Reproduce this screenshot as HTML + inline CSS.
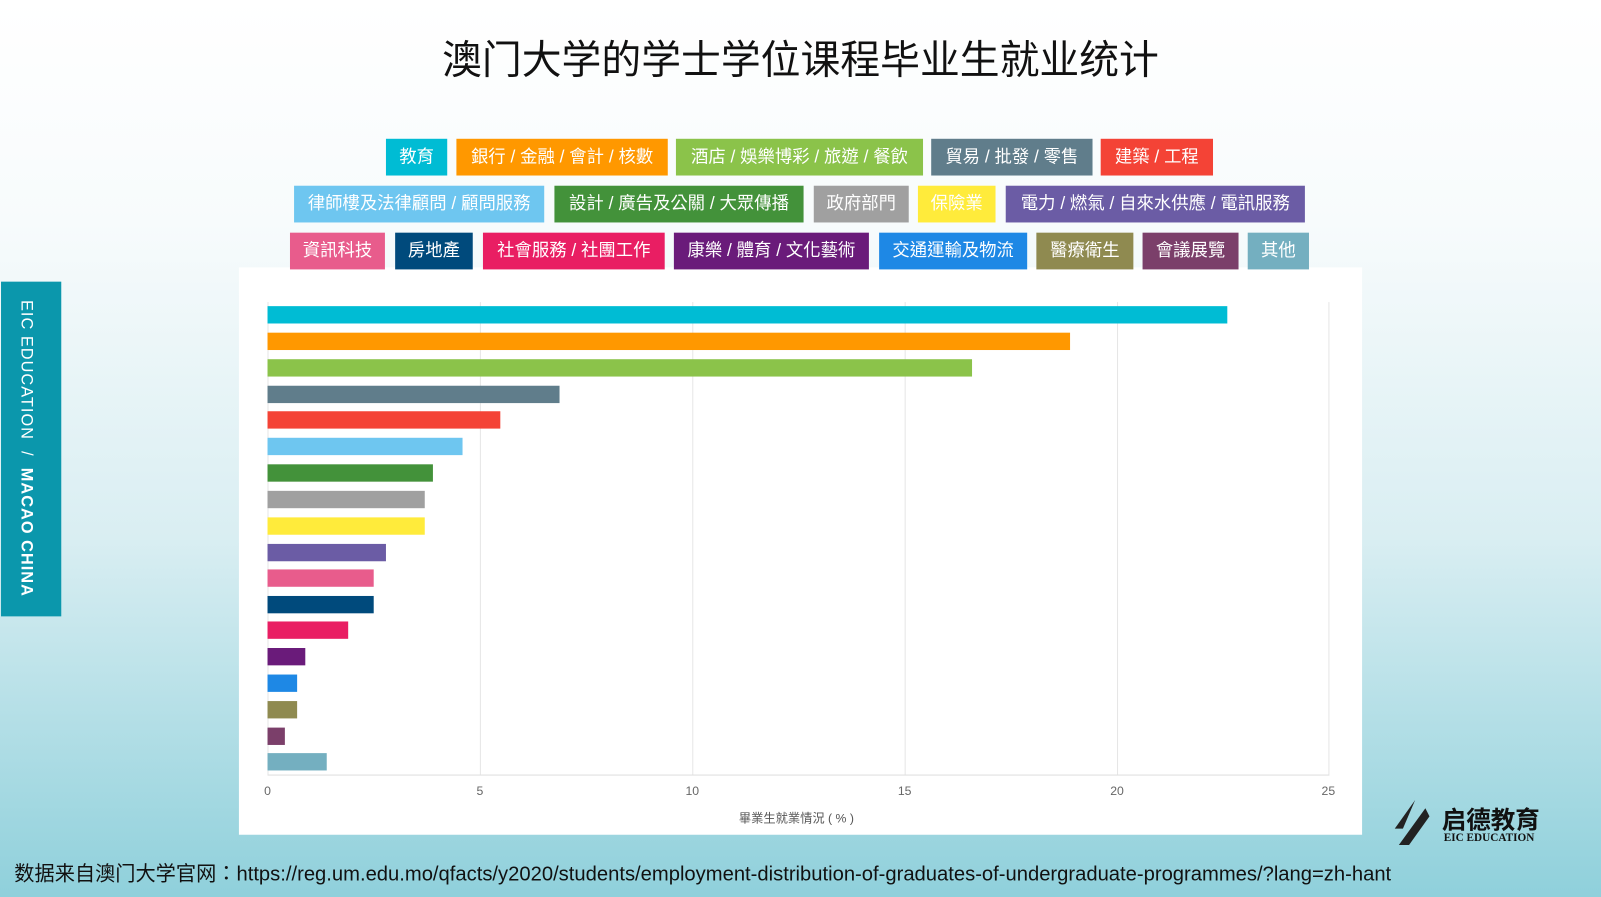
<!DOCTYPE html>
<html><head><meta charset="utf-8"><style>
html,body{margin:0;padding:0;width:1601px;height:897px;overflow:hidden}
#w{position:absolute;left:0;top:0;width:1568px;height:879px;transform:scale(1.02105,1.02048);transform-origin:0 0;
background:linear-gradient(180deg,#ffffff 0%,#f7fbfc 25%,#d9eef2 60%,#8fd0db 100%);font-family:"Liberation Sans","Noto Sans CJK TC",sans-serif}
.t{position:absolute;left:0;width:1568px;top:28px;text-align:center;font-size:39px;color:#111;font-family:"Liberation Sans","Noto Sans CJK SC",sans-serif}
.l{position:absolute;height:36px;line-height:36px;color:#fff;font-size:17px;text-align:center;white-space:nowrap}
.side{position:absolute;left:1px;top:276px;width:59px;height:328px;background:#0b97ac}
.side span{position:absolute;left:15px;top:18px;writing-mode:vertical-rl;color:#fff;font-size:16px;letter-spacing:1px}
.panel{position:absolute;left:234px;top:262px;width:1100px;height:556px;background:#fff}
.b{position:absolute;left:262px;height:17px}
.g{position:absolute;top:296px;height:463px;width:1px;background:#e6e6e6}
.tk{position:absolute;top:768px;font-size:12px;color:#666;width:30px;margin-left:-15px;text-align:center}
.foot{position:absolute;left:14px;top:840px;font-size:19.8px;color:#111;white-space:nowrap}
</style></head><body><div id="w">
<div class="t">澳门大学的学士学位课程毕业生就业统计</div>
<div class="side"><span>EIC EDUCATION &nbsp;/ &nbsp;<b>MACAO CHINA</b></span></div>
<div class="panel"></div>

<div class="l" style="top:136px;left:378px;width:60px;background:#00bcd4">教育</div>
<div class="l" style="top:136px;left:447px;width:207px;background:#ff9800">銀行 / 金融 / 會計 / 核數</div>
<div class="l" style="top:136px;left:662px;width:242px;background:#8bc34a">酒店 / 娛樂博彩 / 旅遊 / 餐飲</div>
<div class="l" style="top:136px;left:912px;width:158px;background:#607d8b">貿易 / 批發 / 零售</div>
<div class="l" style="top:136px;left:1078px;width:110px;background:#f44336">建築 / 工程</div>

<div class="l" style="top:182px;left:288px;width:245px;background:#6ec6f0">律師樓及法律顧問 / 顧問服務</div>
<div class="l" style="top:182px;left:543px;width:244px;background:#43923a">設計 / 廣告及公關 / 大眾傳播</div>
<div class="l" style="top:182px;left:797px;width:93px;background:#a0a0a0">政府部門</div>
<div class="l" style="top:182px;left:899px;width:76px;background:#ffeb3b">保險業</div>
<div class="l" style="top:182px;left:985px;width:293px;background:#6b5ca5">電力 / 燃氣 / 自來水供應 / 電訊服務</div>

<div class="l" style="top:228px;left:284px;width:93px;background:#e85c8c">資訊科技</div>
<div class="l" style="top:228px;left:387px;width:76px;background:#004a7c">房地產</div>
<div class="l" style="top:228px;left:473px;width:178px;background:#e91e63">社會服務 / 社團工作</div>
<div class="l" style="top:228px;left:660px;width:191px;background:#6a1b7a">康樂 / 體育 / 文化藝術</div>
<div class="l" style="top:228px;left:861px;width:145px;background:#1e88e5">交通運輸及物流</div>
<div class="l" style="top:228px;left:1015px;width:95px;background:#8f8a50">醫療衛生</div>
<div class="l" style="top:228px;left:1119px;width:94px;background:#7b3f6a">會議展覽</div>
<div class="l" style="top:228px;left:1222px;width:60px;background:#74afc0">其他</div>

<div class="g" style="left:262px"></div><div class="g" style="left:470px"></div><div class="g" style="left:678px"></div>
<div class="g" style="left:886px"></div><div class="g" style="left:1094px"></div><div class="g" style="left:1301px"></div>
<div style="position:absolute;left:262px;top:759px;width:1040px;height:1px;background:#ddd"></div>

<div class="b" style="top:300px;width:940px;background:#00bcd4"></div>
<div class="b" style="top:326px;width:786px;background:#ff9800"></div>
<div class="b" style="top:352px;width:690px;background:#8bc34a"></div>
<div class="b" style="top:378px;width:286px;background:#607d8b"></div>
<div class="b" style="top:403px;width:228px;background:#f44336"></div>
<div class="b" style="top:429px;width:191px;background:#6ec6f0"></div>
<div class="b" style="top:455px;width:162px;background:#43923a"></div>
<div class="b" style="top:481px;width:154px;background:#a0a0a0"></div>
<div class="b" style="top:507px;width:154px;background:#ffeb3b"></div>
<div class="b" style="top:533px;width:116px;background:#6b5ca5"></div>
<div class="b" style="top:558px;width:104px;background:#e85c8c"></div>
<div class="b" style="top:584px;width:104px;background:#004a7c"></div>
<div class="b" style="top:609px;width:79px;background:#e91e63"></div>
<div class="b" style="top:635px;width:37px;background:#6a1b7a"></div>
<div class="b" style="top:661px;width:29px;background:#1e88e5"></div>
<div class="b" style="top:687px;width:29px;background:#8f8a50"></div>
<div class="b" style="top:713px;width:17px;background:#7b3f6a"></div>
<div class="b" style="top:738px;width:58px;background:#74afc0"></div>

<div class="tk" style="left:262px">0</div><div class="tk" style="left:470px">5</div><div class="tk" style="left:678px">10</div>
<div class="tk" style="left:886px">15</div><div class="tk" style="left:1094px">20</div><div class="tk" style="left:1301px">25</div>
<div style="position:absolute;left:700px;width:160px;text-align:center;top:793px;font-size:12px;color:#555">畢業生就業情況 ( % )</div>

<div style="position:absolute;left:1356px;top:782px;width:48px;height:48px">
<svg width="48" height="48"><path d="M30 2 L10 30 L18 30 Z" fill="#222"/><path d="M40 10 L14 46 L24 46 L44 18 Z" fill="#222"/></svg></div>
<div style="position:absolute;left:1412px;top:784px;font-size:24px;font-weight:bold;color:#111">启德教育</div>
<div style="position:absolute;left:1414px;top:815px;font-size:11px;font-weight:bold;color:#111;font-family:'Liberation Serif',serif">EIC EDUCATION</div>

<div class="foot">数据来自澳门大学官网：https://reg.um.edu.mo/qfacts/y2020/students/employment-distribution-of-graduates-of-undergraduate-programmes/?lang=zh-hant</div>
</div></body></html>
